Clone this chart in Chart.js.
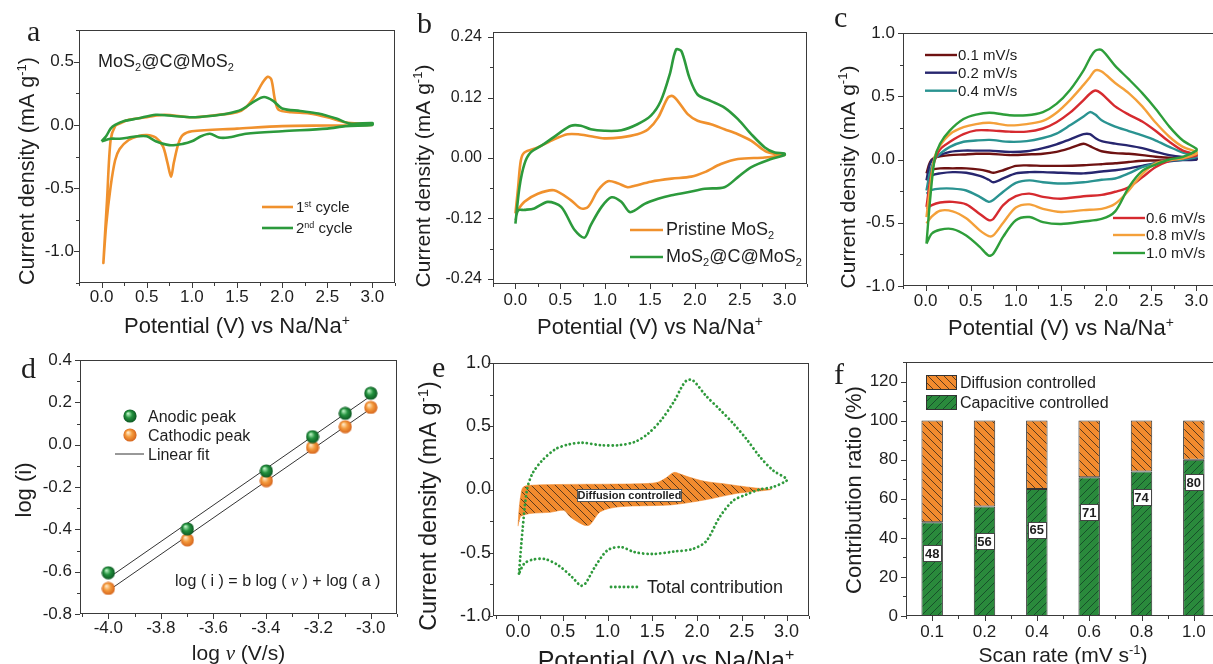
<!DOCTYPE html>
<html>
<head>
<meta charset="utf-8">
<title>MoS2@C@MoS2 CV analysis</title>
<script src="https://cdn.jsdelivr.net/npm/chart.js@4.4.1/dist/chart.umd.min.js"></script>
<style>
  html, body { margin: 0; padding: 0; background: #fff; }
  body { position: relative; width: 1213px; height: 664px; overflow: hidden; }
  .panel { position: absolute; }
</style>
</head>
<body>
<script>
// ---------- data ----------

// a: MoS2@C@MoS2, 1st and 2nd cycle
const aCyc1DnV = [3.0, 2.5, 2.0, 1.5, 1.0, 0.9, 0.85, 0.8, 0.77, 0.73, 0.68, 0.6, 0.5, 0.4, 0.3, 0.2, 0.15, 0.1, 0.05, 0.02];
const aCyc1DnI = [0.0, -0.005, -0.01, -0.03, -0.05, -0.08, -0.15, -0.3, -0.41, -0.3, -0.17, -0.1, -0.08, -0.09, -0.12, -0.19, -0.28, -0.49, -0.8, -1.09];
const aCyc1UpV = [0.06, 0.1, 0.15, 0.2, 0.3, 0.5, 0.7, 1.0, 1.3, 1.5, 1.6, 1.7, 1.78, 1.84, 1.88, 1.92, 1.96, 2.1, 2.3, 2.5, 2.7, 2.85, 3.0];
const aCyc1UpI = [-0.6, -0.12, -0.01, 0.01, 0.04, 0.06, 0.08, 0.06, 0.08, 0.1, 0.14, 0.23, 0.33, 0.38, 0.36, 0.2, 0.12, 0.1, 0.09, 0.06, 0.02, 0.01, 0.01];
const aCyc2UpV = [0.0, 0.05, 0.1, 0.15, 0.25, 0.4, 0.6, 0.8, 1.0, 1.2, 1.4, 1.55, 1.7, 1.8, 1.9, 2.0, 2.2, 2.4, 2.6, 2.75, 3.0];
const aCyc2UpI = [-0.13, -0.09, -0.03, 0.0, 0.03, 0.05, 0.08, 0.07, 0.06, 0.07, 0.09, 0.12, 0.19, 0.22, 0.19, 0.13, 0.11, 0.09, 0.05, 0.01, 0.015];
const aCyc2DnV = [3.0, 2.7, 2.5, 2.0, 1.6, 1.4, 1.3, 1.2, 1.1, 1.0, 0.9, 0.75, 0.6, 0.5, 0.4, 0.3, 0.2, 0.1, 0.0];
const aCyc2DnI = [0.0, -0.01, -0.03, -0.05, -0.07, -0.1, -0.1, -0.07, -0.09, -0.13, -0.15, -0.16, -0.13, -0.09, -0.09, -0.1, -0.11, -0.11, -0.13];

// b: pristine MoS2 vs MoS2@C@MoS2
const bPriUpV = [0.0, 0.03, 0.06, 0.1, 0.25, 0.43, 0.58, 0.7, 0.84, 0.99, 1.18, 1.36, 1.48, 1.59, 1.7, 1.75, 1.81, 1.92, 2.03, 2.18, 2.33, 2.48, 2.63, 2.78, 2.89, 3.0];
const bPriUpI = [-0.11, -0.058, -0.005, 0.011, 0.021, 0.037, 0.047, 0.047, 0.043, 0.039, 0.041, 0.047, 0.057, 0.08, 0.12, 0.123, 0.113, 0.087, 0.074, 0.067, 0.057, 0.047, 0.034, 0.014, 0.008, 0.0066];
const bPriDnV = [3.0, 2.78, 2.48, 2.29, 2.11, 1.96, 1.74, 1.51, 1.33, 1.25, 1.14, 1.03, 0.92, 0.81, 0.73, 0.62, 0.43, 0.25, 0.1, 0.0];
const bPriDnI = [0.006, 0.001, -0.002, -0.012, -0.028, -0.037, -0.041, -0.047, -0.055, -0.058, -0.05, -0.046, -0.064, -0.097, -0.1, -0.084, -0.064, -0.071, -0.087, -0.11];
const bMosUpV = [0.0, 0.045, 0.1, 0.17, 0.32, 0.47, 0.62, 0.73, 0.84, 0.99, 1.18, 1.36, 1.51, 1.62, 1.72, 1.79, 1.85, 1.94, 2.03, 2.18, 2.33, 2.48, 2.63, 2.78, 2.89, 3.0];
const bMosUpI = [-0.13, -0.058, -0.012, 0.011, 0.028, 0.047, 0.064, 0.064, 0.057, 0.054, 0.055, 0.067, 0.084, 0.113, 0.166, 0.215, 0.212, 0.159, 0.126, 0.113, 0.1, 0.077, 0.047, 0.021, 0.011, 0.009];
const bMosDnV = [3.0, 2.85, 2.63, 2.48, 2.33, 2.11, 1.92, 1.74, 1.59, 1.44, 1.33, 1.27, 1.18, 1.07, 0.96, 0.84, 0.77, 0.66, 0.51, 0.36, 0.21, 0.1, 0.03, 0.0];
const bMosDnI = [0.006, -0.002, -0.018, -0.038, -0.058, -0.061, -0.068, -0.074, -0.081, -0.091, -0.104, -0.107, -0.087, -0.078, -0.097, -0.133, -0.158, -0.143, -0.097, -0.087, -0.1, -0.103, -0.104, -0.124];

// c: scan rates 0.1 - 1.0 mV/s (shared potential grid per sweep)
const cRates = ['0.1 mV/s', '0.2 mV/s', '0.4 mV/s', '0.6 mV/s', '0.8 mV/s', '1.0 mV/s'];
const cUpV = [0.01, 0.05, 0.1, 0.16, 0.27, 0.42, 0.56, 0.71, 0.93, 1.12, 1.3, 1.45, 1.6, 1.75, 1.82, 1.88, 1.95, 2.1, 2.25, 2.4, 2.55, 2.7, 2.85, 3.0];
const cDnV = [3.0, 2.85, 2.7, 2.55, 2.4, 2.25, 2.1, 1.95, 1.75, 1.5, 1.3, 1.15, 1.0, 0.86, 0.75, 0.7, 0.6, 0.45, 0.3, 0.16, 0.07, 0.01];
const c01Up = [-0.11, -0.02, 0.015, 0.025, 0.035, 0.04, 0.045, 0.045, 0.035, 0.04, 0.045, 0.06, 0.09, 0.125, 0.105, 0.085, 0.065, 0.05, 0.045, 0.035, 0.022, 0.014, 0.008, 0.005];
const c01Dn = [0.0, -0.002, -0.005, -0.008, -0.01, -0.02, -0.03, -0.037, -0.045, -0.05, -0.05, -0.047, -0.05, -0.085, -0.105, -0.095, -0.08, -0.07, -0.07, -0.07, -0.08, -0.1];
const c02Up = [-0.165, -0.03, 0.015, 0.035, 0.06, 0.07, 0.07, 0.07, 0.06, 0.065, 0.09, 0.12, 0.16, 0.2, 0.2, 0.17, 0.145, 0.125, 0.11, 0.09, 0.06, 0.035, 0.02, 0.012];
const c02Dn = [0.0, -0.005, -0.015, -0.03, -0.05, -0.07, -0.085, -0.095, -0.11, -0.105, -0.1, -0.1, -0.11, -0.15, -0.18, -0.16, -0.13, -0.105, -0.1, -0.11, -0.125, -0.165];
const c04Up = [-0.245, -0.1, 0.0, 0.045, 0.1, 0.14, 0.15, 0.155, 0.14, 0.145, 0.17, 0.205, 0.27, 0.34, 0.375, 0.355, 0.31, 0.26, 0.225, 0.19, 0.15, 0.1, 0.055, 0.03];
const c04Dn = [0.02, 0.0, -0.01, -0.03, -0.06, -0.11, -0.15, -0.16, -0.18, -0.19, -0.18, -0.165, -0.185, -0.255, -0.32, -0.335, -0.295, -0.245, -0.23, -0.23, -0.24, -0.27];
const c06Up = [-0.375, -0.17, -0.01, 0.08, 0.14, 0.2, 0.23, 0.23, 0.22, 0.22, 0.245, 0.295, 0.37, 0.47, 0.52, 0.545, 0.52, 0.42, 0.355, 0.3, 0.225, 0.14, 0.07, 0.04];
const c06Dn = [0.03, 0.01, -0.01, -0.06, -0.14, -0.22, -0.255, -0.28, -0.29, -0.31, -0.295, -0.27, -0.29, -0.36, -0.47, -0.48, -0.43, -0.355, -0.335, -0.34, -0.36, -0.39];
const c08Up = [-0.455, -0.22, 0.02, 0.11, 0.2, 0.255, 0.28, 0.29, 0.27, 0.28, 0.305, 0.37, 0.47, 0.59, 0.65, 0.705, 0.695, 0.605, 0.525, 0.42, 0.29, 0.18, 0.1, 0.06];
const c08Dn = [0.045, 0.01, -0.005, -0.03, -0.115, -0.245, -0.35, -0.39, -0.4, -0.415, -0.39, -0.355, -0.38, -0.5, -0.6, -0.605, -0.56, -0.465, -0.41, -0.405, -0.45, -0.505];
const c10Up = [-0.665, -0.32, 0.0, 0.125, 0.23, 0.32, 0.355, 0.37, 0.35, 0.35, 0.375, 0.44, 0.55, 0.705, 0.8, 0.86, 0.865, 0.74, 0.635, 0.525, 0.4, 0.26, 0.15, 0.085];
const c10Dn = [0.07, 0.02, 0.0, -0.04, -0.09, -0.22, -0.41, -0.47, -0.49, -0.51, -0.495, -0.455, -0.48, -0.61, -0.745, -0.76, -0.69, -0.6, -0.55, -0.555, -0.585, -0.665];

// d: log(i) vs log(v)
const dLogRate = [-4.0, -3.699, -3.398, -3.222, -3.097, -3.0];
const dAnodic = [-0.605, -0.398, -0.124, 0.038, 0.148, 0.243];
const dCathodic = [-0.679, -0.45, -0.17, -0.013, 0.085, 0.176];
const dFitX = [-4.0, -3.0];
const dAnodicFit = [-0.63, 0.23];
const dCathodicFit = [-0.69, 0.17];

// e: diffusion-controlled area inside the 1.0 mV/s curve
const eDiffUpV = [0.0, 0.01, 0.03, 0.06, 0.2, 0.5, 1.0, 1.33, 1.55, 1.65, 1.74, 1.82, 1.9, 2.08, 2.3, 2.45, 2.65, 2.83];
const eDiffUpI = [-0.29, -0.17, -0.05, 0.02, 0.035, 0.04, 0.042, 0.045, 0.055, 0.09, 0.135, 0.12, 0.1, 0.065, 0.045, 0.03, 0.012, 0.0];
const eDiffDnV = [2.45, 2.08, 1.7, 1.14, 0.92, 0.8, 0.73, 0.58, 0.51, 0.36, 0.13, 0.03];
const eDiffDnI = [-0.03, -0.083, -0.122, -0.136, -0.175, -0.28, -0.28, -0.215, -0.165, -0.18, -0.19, -0.21];

// f: contribution ratio
const fRates = ['0.1', '0.2', '0.4', '0.6', '0.8', '1.0'];
const fCapacitive = [48, 56, 65, 71, 74, 80];
const fDiffusion = [52, 44, 35, 29, 26, 20];

// tick labels
const cvXTicks = [0, 0.5, 1.0, 1.5, 2.0, 2.5, 3.0];
const aYTicks = [-1.0, -0.5, 0.0, 0.5];
const bYTicks = [-0.24, -0.12, 0.0, 0.12, 0.24];
const cYTicks = [-1.0, -0.5, 0.0, 0.5, 1.0];
const dXTicks = [-4.0, -3.8, -3.6, -3.4, -3.2, -3.0];
const dYTicks = [-0.8, -0.6, -0.4, -0.2, 0.0, 0.2, 0.4];
const fYTicks = [0, 20, 40, 60, 80, 100, 120];

// ---------- styling helpers ----------
const FONT = '"Liberation Sans", Arial, Helvetica, sans-serif';
const SERIF = '"Liberation Serif", "Times New Roman", serif';
const INK = '#1e1e1e';
const ORANGE = '#f0912d';
const GREEN = '#2c9a3c';
const C_COLORS = ['#6e1212', '#27266f', '#2a9391', '#d62a2f', '#f4a03a', '#2e9e3a'];

function parseRich(s) {
  const out = [];
  let i = 0, buf = '';
  while (i < s.length) {
    const c = s[i];
    if ((c === '^' || c === '_' || c === '~') && s[i + 1] === '{') {
      if (buf) { out.push({t: buf, k: ''}); buf = ''; }
      const j = s.indexOf('}', i);
      out.push({t: s.slice(i + 2, j), k: c});
      i = j + 1;
    } else { buf += c; i++; }
  }
  if (buf) out.push({t: buf, k: ''});
  return out;
}

function richFont(k, size, bold) {
  const b = bold ? 'bold ' : '';
  if (k === '^' || k === '_') return b + Math.round(size * 0.62) + 'px ' + FONT;
  if (k === '~') return 'italic ' + size + 'px ' + SERIF;
  return b + size + 'px ' + FONT;
}

// text with ^{sup}, _{sub}, ~{italic serif}; y is the vertical middle
function drawRich(ctx, s, x, y, size, o = {}) {
  const parts = parseRich(s);
  ctx.save();
  ctx.fillStyle = o.color || INK;
  ctx.textBaseline = 'alphabetic';
  ctx.textAlign = 'left';
  let w = 0;
  parts.forEach(p => { ctx.font = richFont(p.k, size, o.bold); p.w = ctx.measureText(p.t).width; w += p.w; });
  ctx.translate(x, y);
  if (o.rotate) ctx.rotate(-Math.PI / 2);
  let cx = o.align === 'center' ? -w / 2 : 0;
  parts.forEach(p => {
    ctx.font = richFont(p.k, size, o.bold);
    const dy = p.k === '^' ? -size * 0.38 : p.k === '_' ? size * 0.22 : 0;
    ctx.fillText(p.t, cx, size * 0.36 + dy);
    cx += p.w;
  });
  ctx.restore();
  return w;
}

function legLine(ctx, x1, x2, y, color, w, dash) {
  ctx.save();
  ctx.strokeStyle = color; ctx.lineWidth = w;
  if (dash) { ctx.setLineDash(dash); ctx.lineCap = 'round'; }
  ctx.beginPath(); ctx.moveTo(x1, y); ctx.lineTo(x2, y); ctx.stroke();
  ctx.restore();
}

function hatch(bg, ink, dir, s, lw) {
  const c = document.createElement('canvas');
  c.width = c.height = s;
  const g = c.getContext('2d');
  g.fillStyle = bg; g.fillRect(0, 0, s, s);
  g.strokeStyle = ink; g.lineWidth = lw;
  g.beginPath();
  if (dir > 0) {
    g.moveTo(-1, -1); g.lineTo(s + 1, s + 1);
    g.moveTo(s - 1, -1); g.lineTo(s + 1, 1);
    g.moveTo(-1, s - 1); g.lineTo(1, s + 1);
  } else {
    g.moveTo(-1, s + 1); g.lineTo(s + 1, -1);
    g.moveTo(-1, 1); g.lineTo(1, -1);
    g.moveTo(s - 1, s + 1); g.lineTo(s + 1, s - 1);
  }
  g.stroke();
  return g.createPattern(c, 'repeat');
}

function sphere(base, dark, light) {
  const c = document.createElement('canvas');
  c.width = c.height = 14;
  const g = c.getContext('2d');
  const gr = g.createRadialGradient(5, 4.5, 0.5, 7, 7, 7);
  gr.addColorStop(0, light); gr.addColorStop(0.45, base); gr.addColorStop(1, dark);
  g.fillStyle = gr;
  g.beginPath(); g.arc(7, 7, 6.6, 0, Math.PI * 2); g.fill();
  return c;
}

const orangeHatch = hatch('#f28b2e', '#5b3a1c', 1, 8, 1);
const greenHatch = hatch('#2a8a3c', '#17502a', -1, 8, 1);
const greenBall = sphere('#23923e', '#0b5220', '#b8f0c0');
const orangeBall = sphere('#f49a3c', '#d3601a', '#ffe6c2');

const pts = (xs, ys) => xs.map((x, i) => ({x, y: ys[i]}));
const cvSet = (label, xs, ys, color, w) => ({
  label, data: pts(xs, ys), borderColor: color, borderWidth: w,
  pointRadius: 0, tension: 0.3, fill: false
});

function minors(maj, min, max) {
  const h = (maj[1] - maj[0]) / 2, out = [];
  for (let v = maj[0] - h; v >= min - 1e-9; v -= 2 * h) out.push(v);
  maj.forEach(m => { if (m + h <= max + 1e-9) out.push(m + h); });
  return out;
}

function linAxis(min, max, major, digits, size, pad) {
  return {
    type: 'linear', min, max,
    grid: {display: false, drawTicks: false},
    border: {display: false},
    afterBuildTicks: s => { s.ticks = major.map(v => ({value: v})); },
    ticks: {padding: pad, color: INK, autoSkip: false, maxRotation: 0,
      font: {family: FONT, size}, callback: v => v.toFixed(digits)}
  };
}

// frame, outward ticks, axis titles, panel letter, legends
// xTitle: [text, size, centerY, centerX?]  yTitle: [text, size, centerX, centerY?]
function deco(box, d) {
  return {
    id: 'deco',
    afterDraw(chart) {
      const ctx = chart.ctx, a = chart.chartArea;
      const sx = chart.scales.x, sy = chart.scales.y;
      ctx.save();
      ctx.strokeStyle = '#3a3a3a'; ctx.lineWidth = 1;
      ctx.strokeRect(Math.round(a.left) + 0.5, Math.round(a.top) + 0.5,
        Math.round(a.right - a.left) - 1, Math.round(a.bottom - a.top) - 1);
      ctx.beginPath();
      const xt = (v, len) => { const p = Math.round(sx.getPixelForValue(v)) + 0.5; ctx.moveTo(p, a.bottom); ctx.lineTo(p, a.bottom + len); };
      const yt = (v, len) => { const p = Math.round(sy.getPixelForValue(v)) + 0.5; ctx.moveTo(a.left, p); ctx.lineTo(a.left - len, p); };
      d.xMajor.forEach(v => xt(v, 5));
      (d.xMinor || minors(d.xMajor, sx.min, sx.max)).forEach(v => xt(v, 3));
      d.yMajor.forEach(v => yt(v, 5));
      minors(d.yMajor, sy.min, sy.max).forEach(v => yt(v, 3));
      ctx.stroke();

      ctx.translate(-box.x, -box.y);
      const xc = d.xTitle[3] || (a.left + a.right) / 2 + box.x;
      const yc = d.yTitle[3] || (a.top + a.bottom) / 2 + box.y;
      drawRich(ctx, d.xTitle[0], xc, d.xTitle[2], d.xTitle[1], {align: 'center'});
      drawRich(ctx, d.yTitle[0], d.yTitle[2], yc, d.yTitle[1], {align: 'center', rotate: true});
      ctx.font = '30px ' + SERIF; ctx.fillStyle = INK;
      ctx.textAlign = 'left'; ctx.textBaseline = 'alphabetic';
      ctx.fillText(d.letter[0], d.letter[1], d.letter[2]);
      if (d.extra) d.extra(ctx, chart, box);
      ctx.restore();
    }
  };
}

function panel(box, area, config, d) {
  const wrap = document.createElement('div');
  wrap.className = 'panel';
  wrap.style.cssText = `left:${box.x}px;top:${box.y}px;width:${box.w}px;height:${box.h}px`;
  const cv = document.createElement('canvas');
  cv.width = box.w; cv.height = box.h;
  wrap.appendChild(cv);
  document.body.appendChild(wrap);
  const xH = box.y + box.h - area.b, yW = area.l - box.x;
  const sc = config.options.scales;
  sc.x.afterFit = s => { s.height = xH; };
  sc.y.afterFit = s => { s.width = yW; };
  Object.assign(config.options, {
    responsive: false, animation: false, events: [],
    layout: {padding: {top: area.t - box.y, right: box.x + box.w - area.r, left: 0, bottom: 0}},
    plugins: {legend: {display: false}, tooltip: {enabled: false}}
  });
  config.plugins = [deco(box, d)];
  return new Chart(cv, config);
}

const CD = 'Current density (mA g^{-1})';
const POT = 'Potential (V) vs Na/Na^{+}';

// ---------- a ----------
panel({x: 0, y: 0, w: 405, h: 345}, {l: 79, t: 30, r: 395, b: 283}, {
  type: 'line',
  data: {datasets: [
    cvSet('2nd cycle', aCyc2UpV.concat(aCyc2DnV), aCyc2UpI.concat(aCyc2DnI), GREEN, 2.6),
    cvSet('1st cycle', aCyc1DnV.concat(aCyc1UpV), aCyc1DnI.concat(aCyc1UpI), ORANGE, 2.6)
  ]},
  options: {scales: {x: linAxis(-0.25, 3.25, cvXTicks, 1, 17, 4), y: linAxis(-1.25, 0.75, aYTicks, 1, 17, 5)}}
}, {
  xMajor: cvXTicks, yMajor: aYTicks,
  xTitle: [POT, 22, 325], yTitle: [CD, 21.5, 26, 171], letter: ['a', 27, 41],
  extra(ctx) {
    drawRich(ctx, 'MoS_{2}@C@MoS_{2}', 98, 61, 18);
    legLine(ctx, 262, 293, 207, ORANGE, 2.6);
    drawRich(ctx, '1^{st} cycle', 296, 207, 15);
    legLine(ctx, 262, 293, 228, GREEN, 2.6);
    drawRich(ctx, '2^{nd} cycle', 296, 228, 15);
  }
});

// ---------- b ----------
panel({x: 405, y: 0, w: 405, h: 345}, {l: 493, t: 32, r: 807, b: 284}, {
  type: 'line',
  data: {datasets: [
    cvSet('MoS2@C@MoS2', bMosUpV.concat(bMosDnV), bMosUpI.concat(bMosDnI), GREEN, 2.6),
    cvSet('Pristine MoS2', bPriUpV.concat(bPriDnV), bPriUpI.concat(bPriDnI), ORANGE, 2.6)
  ]},
  options: {scales: {x: linAxis(-0.25, 3.25, cvXTicks, 1, 17, 6), y: linAxis(-0.25, 0.25, bYTicks, 2, 16, 11)}}
}, {
  xMajor: cvXTicks, yMajor: bYTicks,
  xTitle: [POT, 22, 326], yTitle: [CD, 21, 422, 176], letter: ['b', 417, 33],
  extra(ctx) {
    legLine(ctx, 630, 663, 230, ORANGE, 2.6);
    drawRich(ctx, 'Pristine MoS_{2}', 666, 229, 18);
    legLine(ctx, 630, 663, 257, GREEN, 2.6);
    drawRich(ctx, 'MoS_{2}@C@MoS_{2}', 666, 256, 18);
  }
});

// ---------- c ----------
const cUps = [c01Up, c02Up, c04Up, c06Up, c08Up, c10Up];
const cDns = [c01Dn, c02Dn, c04Dn, c06Dn, c08Dn, c10Dn];
panel({x: 810, y: 0, w: 420, h: 345}, {l: 903, t: 33, r: 1219, b: 286}, {
  type: 'line',
  data: {datasets: cRates.map((r, i) => cvSet(r, cUpV.concat(cDnV), cUps[i].concat(cDns[i]), C_COLORS[i], 2.4)).reverse()},
  options: {scales: {x: linAxis(-0.25, 3.25, cvXTicks, 1, 17, 5), y: linAxis(-1, 1, cYTicks, 1, 17, 8)}}
}, {
  xMajor: cvXTicks, yMajor: cYTicks,
  xTitle: [POT, 22, 327], yTitle: [CD, 21, 847, 177], letter: ['c', 834, 27],
  extra(ctx) {
    const ys = [55, 72.7, 90.7, 218, 235, 253];
    cRates.forEach((r, i) => {
      const x = i < 3 ? 925 : 1113;
      legLine(ctx, x, x + 32, ys[i], C_COLORS[i], 2.4);
      drawRich(ctx, r, x + 33, ys[i], 15);
    });
  }
});

// ---------- d ----------
panel({x: 0, y: 335, w: 405, h: 329}, {l: 80, t: 360, r: 397, b: 614}, {
  type: 'line',
  data: {datasets: [
    {label: 'Anodic peak', data: pts(dLogRate, dAnodic), showLine: false, pointStyle: greenBall},
    {label: 'Cathodic peak', data: pts(dLogRate, dCathodic), showLine: false, pointStyle: orangeBall},
    {label: 'Linear fit', data: pts(dFitX, dAnodicFit), borderColor: '#333', borderWidth: 1, pointRadius: 0},
    {label: 'Linear fit', data: pts(dFitX, dCathodicFit), borderColor: '#333', borderWidth: 1, pointRadius: 0}
  ]},
  options: {scales: {x: linAxis(-4.108, -2.9, dXTicks, 1, 17, 4), y: linAxis(-0.8, 0.4, dYTicks, 1, 17, 8)}}
}, {
  xMajor: dXTicks, yMajor: dYTicks,
  xTitle: ['log ~{ν} (V/s)', 21, 652], yTitle: ['log (i)', 22, 23, 490], letter: ['d', 21, 378],
  extra(ctx) {
    ctx.drawImage(greenBall, 123, 409);
    drawRich(ctx, 'Anodic peak', 148, 416, 16);
    ctx.drawImage(orangeBall, 123, 428);
    drawRich(ctx, 'Cathodic peak', 148, 435, 16);
    legLine(ctx, 115, 144, 454, '#333', 1);
    drawRich(ctx, 'Linear fit', 148, 454, 16);
    drawRich(ctx, 'log ( i ) = b log ( ~{ν} ) + log ( a )', 175, 580, 16);
  }
});

// ---------- e ----------
panel({x: 405, y: 335, w: 405, h: 329}, {l: 493, t: 363, r: 809, b: 616}, {
  type: 'line',
  data: {datasets: [
    {label: 'Total contribution', data: pts(cUpV.concat(cDnV), c10Up.concat(c10Dn)),
      borderColor: '#2f9a3c', borderWidth: 2.8, borderDash: [0.1, 4.2], borderCapStyle: 'round',
      pointRadius: 0, tension: 0.3, fill: false},
    {label: 'Diffusion controlled', data: pts(eDiffUpV.concat(eDiffDnV), eDiffUpI.concat(eDiffDnI)),
      borderColor: 'rgba(242,139,46,0.6)', borderWidth: 1, backgroundColor: orangeHatch,
      pointRadius: 0, tension: 0.3, fill: 'shape'}
  ]},
  options: {scales: {x: linAxis(-0.28, 3.25, cvXTicks, 1, 18, 5), y: linAxis(-1, 1, cYTicks, 1, 18, 2)}}
}, {
  xMajor: cvXTicks, yMajor: cYTicks,
  xTitle: [POT, 25, 660, 666], yTitle: [CD, 23.5, 428, 506], letter: ['e', 432, 377],
  extra(ctx) {
    ctx.save();
    ctx.fillStyle = '#fff'; ctx.strokeStyle = '#555'; ctx.lineWidth = 1;
    ctx.fillRect(577.5, 489.5, 104, 12); ctx.strokeRect(577.5, 489.5, 104, 12);
    ctx.restore();
    drawRich(ctx, 'Diffusion controlled', 629.5, 495.5, 11, {align: 'center', bold: true});
    legLine(ctx, 611, 641, 587, '#2f9a3c', 2.8, [0.1, 4.2]);
    drawRich(ctx, 'Total contribution', 647, 587, 18);
  }
});

// ---------- f ----------
const capLabelAt = [32.2, 38.4, 44.2, 53.0, 60.8, 68.6];
panel({x: 810, y: 335, w: 420, h: 329}, {l: 906, t: 362, r: 1220, b: 616}, {
  type: 'bar',
  data: {labels: fRates, datasets: [
    {label: 'Capacitive controlled', data: fCapacitive, backgroundColor: greenHatch,
      borderColor: '#333', borderWidth: 1, borderSkipped: false, barPercentage: 0.41, categoryPercentage: 1},
    {label: 'Diffusion controlled', data: fDiffusion, backgroundColor: orangeHatch,
      borderColor: '#333', borderWidth: 1, borderSkipped: false, barPercentage: 0.41, categoryPercentage: 1}
  ]},
  options: {scales: {
    x: {type: 'category', stacked: true, offset: true, grid: {display: false, drawTicks: false}, border: {display: false},
      ticks: {padding: 6, color: INK, font: {family: FONT, size: 17}}},
    y: Object.assign(linAxis(0, 130, fYTicks, 0, 17, 8), {stacked: true})
  }}
}, {
  xMajor: [0, 1, 2, 3, 4, 5], xMinor: [-0.5, 0.5, 1.5, 2.5, 3.5, 4.5, 5.5], yMajor: fYTicks,
  xTitle: ['Scan rate (mV s^{-1})', 21, 654], yTitle: ['Contribution ratio (%)', 22, 853, 490], letter: ['f', 834, 384],
  extra(ctx, chart, box) {
    const sx = chart.scales.x, sy = chart.scales.y;
    ctx.save();
    ctx.lineWidth = 1; ctx.strokeStyle = '#333';
    ctx.fillStyle = orangeHatch; ctx.fillRect(926, 375, 30, 14); ctx.strokeRect(926.5, 375.5, 30, 14);
    ctx.fillStyle = greenHatch; ctx.fillRect(926, 395, 30, 14); ctx.strokeRect(926.5, 395.5, 30, 14);
    ctx.restore();
    drawRich(ctx, 'Diffusion controlled', 960, 382, 16);
    drawRich(ctx, 'Capacitive controlled', 960, 402, 16);
    fCapacitive.forEach((v, i) => {
      const x = sx.getPixelForValue(i) + box.x, y = sy.getPixelForValue(capLabelAt[i]) + box.y;
      ctx.save();
      ctx.fillStyle = '#fff'; ctx.strokeStyle = '#444'; ctx.lineWidth = 1;
      ctx.fillRect(Math.round(x - 9) + 0.5, Math.round(y - 8) + 0.5, 18, 16);
      ctx.strokeRect(Math.round(x - 9) + 0.5, Math.round(y - 8) + 0.5, 18, 16);
      ctx.restore();
      drawRich(ctx, String(v), x, y, 13, {align: 'center', bold: true});
    });
  }
});
</script>
</body>
</html>
